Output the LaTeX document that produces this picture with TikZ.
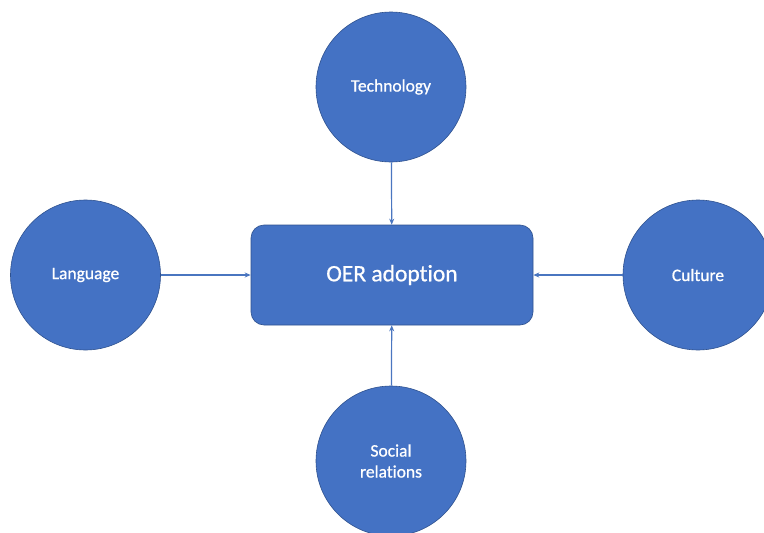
\documentclass[tikz,border=0pt]{standalone}
\usepackage{fontspec}
\setmainfont{Carlito}[Ligatures=NoCommon]
\newfontfamily\labelfont{Carlito}[Ligatures=NoCommon,FakeBold=0.8]
\usetikzlibrary{arrows.meta}
\definecolor{fillblue}{HTML}{4472C4}
\definecolor{edgeblue}{HTML}{2F528F}
\definecolor{linkblue}{HTML}{4A76C0}
\begin{document}
\begin{tikzpicture}[x=1pt,y=-1pt,
  factor/.style={circle,fill=fillblue,draw=edgeblue,line width=0.6pt,minimum size=150pt,inner sep=0pt,text=white,font=\labelfont\fontsize{17.5}{21}\selectfont,align=center},
  centerbox/.style={rectangle,rounded corners=13pt,fill=fillblue,draw=edgeblue,line width=0.6pt,minimum width=282pt,minimum height=100pt,text=white,font=\labelfont\fontsize{23.5}{27}\selectfont},
  link/.style={draw=linkblue,line width=1.2pt,-{Stealth[length=6pt,width=5pt]}}]
\useasboundingbox[fill=white] (0,0) rectangle (764,533);
\node[centerbox] (oer) at (392,275) {OER adoption};
\node[factor] (tech) at (391,87) {Technology};
\node[factor] (lang) at (85.5,275) {Language};
\node[factor] (cult) at (698,275) {Culture};
\node[factor] (soc) at (391,461) {Social\\relations};
\draw[link] (tech) -- (oer);
\draw[link] (lang.east) -- (oer.west|-lang.east);
\draw[link] (cult.west) -- (oer.east|-cult.west);
\draw[link] (soc) -- (oer);
\end{tikzpicture}
\end{document}
